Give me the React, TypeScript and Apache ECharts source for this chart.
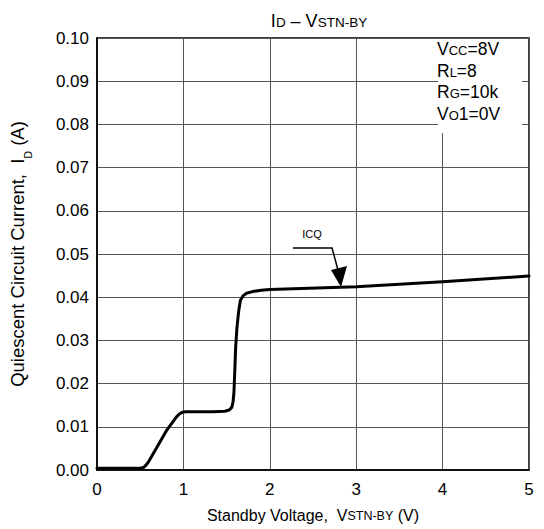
import React, { useEffect, useRef } from "react";
import * as echarts from "echarts";

const voltage = [0, 0.5, 0.54, 0.57, 0.6, 0.81, 0.92, 0.95, 0.98, 1.02, 1.1, 1.35, 1.48, 1.53, 1.56, 1.575, 1.585, 1.595, 1.605, 1.62, 1.64, 1.66, 1.69, 1.73, 1.8, 1.9, 2.0, 3.0, 4.0, 5.0];
const current = [0.0004, 0.0004, 0.0006, 0.0012, 0.0020, 0.0093, 0.0123, 0.0129, 0.0133, 0.0135, 0.0135, 0.0135, 0.0136, 0.0139, 0.0145, 0.0158, 0.0180, 0.0230, 0.0285, 0.0330, 0.0368, 0.0393, 0.0403, 0.0409, 0.0413, 0.0416, 0.0418, 0.0424, 0.0436, 0.0449];
const xTicks = { min: 0, max: 5, step: 1 };
const yTicks = { min: 0, max: 0.1, step: 0.01 };
const conditions = ["{a|V}{s|CC}{a|=8V}", "{a|R}{s|L}{a|=8}", "{a|R}{s|G}{a|=10k}", "{a|V}{s|O}{a|1=0V}"];

const FONT = "'Liberation Sans', Arial, sans-serif";
const F = 17;

export default function App() {
  const ref = useRef<HTMLDivElement>(null);
  useEffect(() => {
    if (!ref.current) return;
    const chart = echarts.init(ref.current, undefined, { renderer: "svg" });
    const mk = (f: number, s: number) => ({
      a: { fontSize: f, fontFamily: FONT, fontWeight: "normal", color: "#000", verticalAlign: "bottom", lineHeight: 20 },
      s: { fontSize: s, fontFamily: FONT, fontWeight: "normal", color: "#000", verticalAlign: "bottom", lineHeight: 20, padding: [0, 0, 1, 0] },
    });
    const pts = voltage.map((v, i) => [v, current[i]]);
    chart.setOption({
      animation: false,
      backgroundColor: "#fff",
      title: {
        text: "{a|I}{s|D}{a| – V}{s|STN-BY}",
        left: 314,
        top: 5,
        textAlign: "center",
        textStyle: { fontWeight: "normal", rich: mk(18, 13.5) },
      },
      grid: { left: 96, right: 15, top: 38, bottom: 59, show: true, borderColor: "#000", borderWidth: 1.5, backgroundColor: "transparent" },
      xAxis: {
        type: "value",
        min: xTicks.min,
        max: xTicks.max,
        interval: xTicks.step,
        name: "{a|Standby Voltage,  V}{s|STN-BY}{a| (V)}",
        nameLocation: "middle",
        nameGap: 33,
        nameTextStyle: { rich: mk(16, 12.5) },
        axisLine: { show: true, lineStyle: { color: "#000", width: 1.5 } },
        axisTick: { show: false },
        axisLabel: { fontSize: F, fontFamily: FONT, color: "#000", margin: 11 },
        splitLine: { show: true, lineStyle: { color: "#555", width: 1 } },
      },
      yAxis: {
        type: "value",
        min: yTicks.min,
        max: yTicks.max,
        interval: yTicks.step,
        name: "{a|Quiescent Circuit Current,  I}{d|D}{a| (A)}",
        nameLocation: "middle",
        nameRotate: 90,
        nameGap: 64,
        nameTextStyle: {
          rich: {
            a: { fontSize: 18.5, fontFamily: FONT, color: "#000", verticalAlign: "top", lineHeight: 25 },
            d: { fontSize: 10.5, fontFamily: FONT, color: "#000", verticalAlign: "bottom", lineHeight: 25 },
          },
        },
        axisLine: { show: true, lineStyle: { color: "#000", width: 1.5 } },
        axisTick: { show: false },
        axisLabel: { fontSize: F, fontFamily: FONT, color: "#000", margin: 8, formatter: (v: number) => v.toFixed(2) },
        splitLine: { show: true, lineStyle: { color: "#555", width: 1 } },
      },
      graphic: [
        { type: "rect", z: 50, shape: { x: 438, y: 39, width: 84, height: 94 }, style: { fill: "#fff" } },
        ...conditions.map((t, i) => ({
          type: "text",
          z: 51,
          x: 437,
          y: 48 + i * 21.5,
          style: { text: t, rich: mk(17.5, 13), verticalAlign: "middle", align: "left" },
        })),
        { type: "polyline", z: 52, shape: { points: [[293, 248], [332, 248], [338, 270]] }, style: { stroke: "#000", lineWidth: 1.5, fill: null } },
        { type: "polygon", z: 52, shape: { points: [[331, 270], [347, 266], [341, 287]] }, style: { fill: "#000" } },
        { type: "text", z: 52, x: 312, y: 234, style: { text: "ICQ", font: `11px ${FONT}`, fill: "#000", align: "center", verticalAlign: "middle" } },
      ],
      series: [
        {
          type: "line",
          data: pts,
          showSymbol: false,
          smooth: false,
          lineStyle: { color: "#000", width: 3, join: "round", cap: "round" },
          z: 10,
        },
      ],
    });
    return () => chart.dispose();
  }, []);
  return <div ref={ref} style={{ position: "fixed", left: 0, top: 0, width: 544, height: 529, background: "#fff" }} />;
}
